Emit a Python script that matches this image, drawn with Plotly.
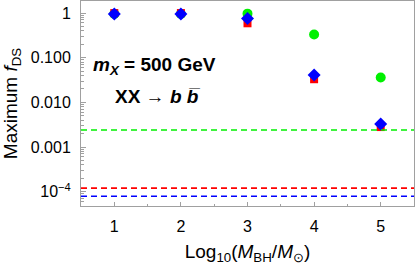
import plotly.graph_objects as go

log_mbh = [1, 2, 3, 4, 5]
red_vals = [1.0, 1.0, 0.59, 0.033, 0.0028]
green_vals = [0.95, 0.95, 0.97, 0.33, 0.036]
blue_vals = [0.95, 0.95, 0.76, 0.041, 0.0033]
limits = {"green": 0.0024, "red": 1.2e-4, "blue": 7.9e-5}
colors = {"red": "#FF0000", "green": "#00F000", "blue": "#0000FF"}
xtick_vals = [1, 2, 3, 4, 5]
ytick_vals = [1e-4, 1e-3, 1e-2, 1e-1, 1]
ytick_text = ["10<sup>−4</sup>", "0.001", "0.010", "0.100", "1"]

FONT = "Liberation Sans, Arial, sans-serif"

fig = go.Figure()
for name, val in limits.items():
    fig.add_hline(y=val, line=dict(color=colors[name], width=1.6, dash="6px,4px"))

fig.add_trace(go.Scatter(x=log_mbh, y=green_vals, mode="markers",
                         marker=dict(symbol="circle", size=10, color=colors["green"]), showlegend=False))
fig.add_trace(go.Scatter(x=log_mbh, y=red_vals, mode="markers",
                         marker=dict(symbol="square", size=8, color=colors["red"]), showlegend=False))
fig.add_trace(go.Scatter(x=log_mbh, y=blue_vals, mode="markers",
                         marker=dict(symbol="diamond", size=10, color=colors["blue"]), showlegend=False))

minor_vals = []
for e in range(-5, 1):
    for m in range(2, 10):
        minor_vals.append(m * 10 ** e)

axis_common = dict(showgrid=False, zeroline=False, showline=True, linecolor="#A0A0A0",
                   linewidth=1, mirror=True, ticks="inside", tickcolor="#A0A0A0", automargin=False,
                   tickfont=dict(family=FONT, size=16, color="black"))

fig.update_xaxes(range=[0.5, 5.5], tickvals=xtick_vals, ticklen=4, ticklabelstandoff=6,
                 title=dict(text="Log<sub>10</sub>(<i>M</i><sub>BH</sub>/<i>M</i><sub>⊙</sub>)",
                            font=dict(family=FONT, size=19, color="black"), standoff=12),
                 minor=dict(ticks="inside", dtick=0.5, ticklen=2, tickcolor="#A0A0A0"),
                 **axis_common)
fig.update_yaxes(type="log", range=[-4.32, 0.27], tickvals=ytick_vals, ticktext=ytick_text, ticklen=5,
                 ticklabelstandoff=6,
                 title=dict(text="Maximum <i>f</i><sub>DS</sub>",
                            font=dict(family=FONT, size=19, color="black"), standoff=8),
                 minor=dict(ticks="inside", tickvals=minor_vals, ticklen=2.5, tickcolor="#A0A0A0"),
                 **axis_common)

fig.add_annotation(xref="paper", yref="paper", x=0.222, y=0.685, xanchor="center", yanchor="middle",
                   text="<b><i>m</i><sub><i>X</i></sub> = 500 GeV</b>", showarrow=False,
                   font=dict(family=FONT, size=19, color="black"))
fig.add_annotation(xref="paper", yref="paper", x=0.231, y=0.535, xanchor="center", yanchor="middle",
                   text="<b>XX → <i>b</i> <i>b\u0305</i></b>", showarrow=False,
                   font=dict(family=FONT, size=19, color="black"))

fig.update_layout(width=415, height=265, margin=dict(l=81, r=1, t=1, b=59),
                  plot_bgcolor="white", paper_bgcolor="white")
fig.write_html("out.html", config={"displayModeBar": False},
               post_script="document.body.style.margin='0';")
